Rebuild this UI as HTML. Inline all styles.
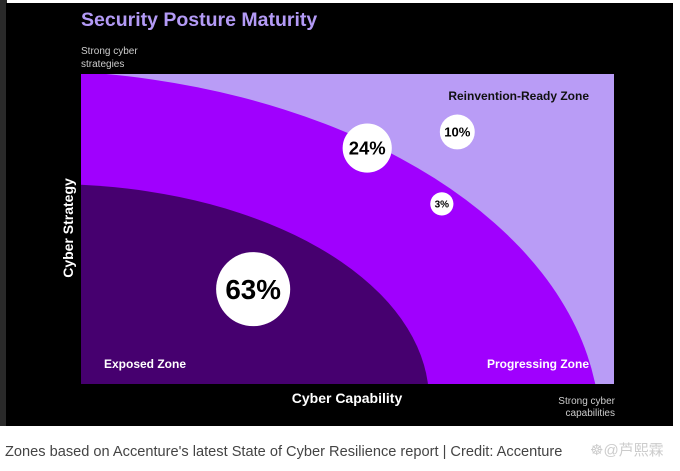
<!DOCTYPE html>
<html><head><meta charset="utf-8"><style>
html,body{margin:0;padding:0;background:#fff;width:680px;height:471px;overflow:hidden}
svg{display:block}
svg text{font-family:"Liberation Sans",sans-serif}
</style></head><body>
<svg width="680" height="471" viewBox="0 0 680 471">
<rect x="0" y="0" width="7" height="426" fill="#2a2a2a"/>
<rect x="6" y="3" width="667" height="423" fill="#000"/>
<text x="81" y="26" font-size="19.5" font-weight="bold" fill="#b39af5">Security Posture Maturity</text>
<text x="81" y="54" font-size="10" fill="#ccc">Strong cyber</text>
<text x="81" y="67" font-size="10" fill="#ccc">strategies</text>
<g id="plot"></g>
<text transform="translate(73,228) rotate(-90)" text-anchor="middle" font-size="14" font-weight="bold" fill="#fff">Cyber Strategy</text>
<text x="347" y="403" text-anchor="middle" font-size="14" font-weight="bold" fill="#fff">Cyber Capability</text>
<text x="615" y="404" text-anchor="end" font-size="10" fill="#ccc">Strong cyber</text>
<text x="615" y="416" text-anchor="end" font-size="10" fill="#ccc">capabilities</text>
<text x="5" y="456" font-size="14.6" fill="#444">Zones based on Accenture's latest State of Cyber Resilience report | Credit: Accenture</text>
<text x="590" y="455" font-size="15" fill="#ccc" style="font-family:'Liberation Sans','Noto Sans CJK SC',sans-serif">☸@芦熙霖</text>
</svg>
<script>
const bubbleLabels=["63%","24%","10%","3%"];
const bubbleValues=[63,24,10,3];
const bubbleCapability=[32.3,53.7,70.6,67.7];
const bubbleStrategy=[30.6,76.1,81.3,58.1];
const NS="http://www.w3.org/2000/svg";
const X0=81,X1=614,Y0=384,Y1=74;
const sx=v=>X0+v/100*(X1-X0), sy=v=>Y0-v/100*(Y0-Y1);
const g=document.getElementById('plot');
function mk(t,a){const e=document.createElementNS(NS,t);for(const k in a)e.setAttribute(k,a[k]);g.appendChild(e);return e;}
function zonePath(cx,cy,rx,ry){
  // start point: intersection with top edge or left edge
  let sxp,syp;
  const yAtX0=cy-ry*Math.sqrt(Math.max(0,1-Math.pow((X0-cx)/rx,2)));
  let d;
  if(yAtX0<Y1){const xa=cx+rx*Math.sqrt(1-Math.pow((cy-Y1)/ry,2));d=`M${X0},${Y1} L${xa},${Y1}`;}
  else d=`M${X0},${yAtX0}`;
  const xr=cx+rx*Math.sqrt(1-Math.pow((cy-Y0)/ry,2));
  d+=` A${rx},${ry} 0 0 1 ${xr},${Y0} L${X0},${Y0} Z`;
  return d;
}
let e=mk('rect',{x:X0,y:Y1,width:X1-X0,height:Y0-Y1,fill:'#b99cf6'});


e=mk('path',{d:zonePath(20,430,580,360),fill:'#a000fe'});


e=mk('path',{d:zonePath(50,400,379,216),fill:'#46006f'});


const zl=[["Reinvention-Ready Zone",589,100,"end","#111","reinvention-zone-label"],["Exposed Zone",104,368,"start","#fff","exposed-zone-label"],["Progressing Zone",589,368,"end","#fff","progressing-zone-label"]];
zl.forEach(z=>{const t=mk('text',{x:z[1],y:z[2],'text-anchor':z[3],fill:z[4],'font-size':12,'font-weight':'bold'});t.textContent=z[0];

});
bubbleValues.forEach((v,i)=>{const r=4.1*Math.sqrt(v)+4.5,cx=sx(bubbleCapability[i]),cy=sy(bubbleStrategy[i]);
const c=mk('circle',{cx:cx,cy:cy,r:r,fill:'#fff'});


const fs=Math.max(10,r*0.75);
const t=mk('text',{x:cx,y:cy+fs*0.36,'text-anchor':'middle','font-size':fs,'font-weight':'bold',fill:'#000'});t.textContent=bubbleLabels[i];

});
</script>
</body></html>
